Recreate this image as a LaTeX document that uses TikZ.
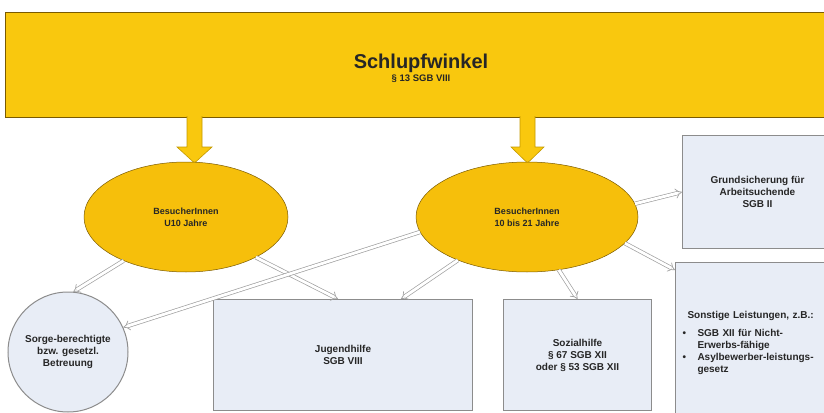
\documentclass[tikz,border=0pt]{standalone}
\usepackage{fontspec}
\setmainfont{Liberation Sans}
\usetikzlibrary{arrows.meta,calc,shapes.geometric}
\definecolor{gold}{HTML}{F9C80E}
\definecolor{goldell}{HTML}{F6BF0B}
\definecolor{goldline}{HTML}{7A5A00}
\definecolor{arrline}{HTML}{C49A00}
\definecolor{boxfill}{HTML}{E8EDF6}
\definecolor{boxline}{HTML}{8C8C8C}
\definecolor{arrgray}{HTML}{A0A0A0}
\begin{document}
\begin{tikzpicture}[x=1pt,y=-1pt,
  txt/.style={font=\fontsize{10}{12}\selectfont\bfseries, align=center, text=black!85},
  bar/.style={draw=goldline, line width=0.8pt, fill=gold, inner sep=0pt},
  ell/.style={ellipse, draw=goldline, line width=0.5pt, fill=goldell, inner sep=0pt, txt, font=\fontsize{9}{12}\selectfont\bfseries},
  box/.style={rectangle, draw=boxline, line width=1pt, fill=boxfill, inner sep=0pt, txt},
  yarr/.style={draw=arrline, line width=0.6pt, fill=gold},
  darr/.style={draw=arrgray, double=white, double distance=2.8pt, line width=0.7pt, -{Implies}}]
\useasboundingbox (0,0) rectangle (824,412);
\clip (0,0) rectangle (824,412);
\fill[white] (0,0) rectangle (824,412);

% top bar
\node[bar, minimum width=830, minimum height=105] (top) at (420,64.5) {};
\node[font=\bfseries, align=center, text=black!85] (title) at (421,68)
  {\fontsize{20}{22}\selectfont Schlupfwinkel\\[1pt]\fontsize{9.5}{11}\selectfont § 13 SGB VIII};

% yellow block arrows
\draw[yarr] (187,116) -- (187,147) -- (177,147) -- (194.5,163) -- (212,147) -- (202,147) -- (202,116);
\draw[yarr] (520,116) -- (520,147) -- (511,147) -- (527.5,163) -- (544,147) -- (535,147) -- (535,116);

% ellipses
\node[ell, minimum width=204, minimum height=110] (e1) at (186,217) {BesucherInnen\\U10 Jahre};
\node[ell, minimum width=222, minimum height=110] (e2) at (527,217) {BesucherInnen\\10 bis 21 Jahre};

% target boxes
\node[box, minimum size=120, circle] (circ) at (68,352) {Sorge-berechtigte\\bzw. gesetzl.\\Betreuung};
\node[box, minimum width=259, minimum height=111, anchor=north west] (jug) at (213,299) {Jugendhilfe\\SGB VIII};
\node[box, minimum width=148, minimum height=111, anchor=north west] (soz) at (503,299) {Sozialhilfe\\§ 67 SGB XII\\oder § 53 SGB XII};
\node[box, minimum width=150, minimum height=113, anchor=north west] (grund) at (682,135) {Grundsicherung für\\Arbeitsuchende\\SGB II};
\node[box, text width=145, inner xsep=7, minimum height=160, anchor=north west, align=left] (son) at (675,262)
  {\hspace*{5pt}Sonstige Leistungen, z.B.:\\[6pt]
   \makebox[15pt][l]{\textbullet}SGB XII für Nicht-\\
   \hspace*{15pt}Erwerbs-fähige\\
   \makebox[15pt][l]{\textbullet}Asylbewerber-leistungs-\\
   \hspace*{15pt}gesetz};

% connectors
\draw[darr] (e1.215) -- (circ.85);
\draw[darr] (e1.-30) -- ($(jug.north)+(-5,0)$);
\draw[darr] (e2.188) -- (circ.24);
\draw[darr] (e2.212) -- ($(jug.north east)+(-72,0)$);
\draw[darr] (e2.-59) -- (soz.north);
\draw[darr] (e2.-15) -- ($(son.north west)+(0,8)$);
\draw[darr] (e2.7) -- (grund.west);
\end{tikzpicture}
\end{document}
